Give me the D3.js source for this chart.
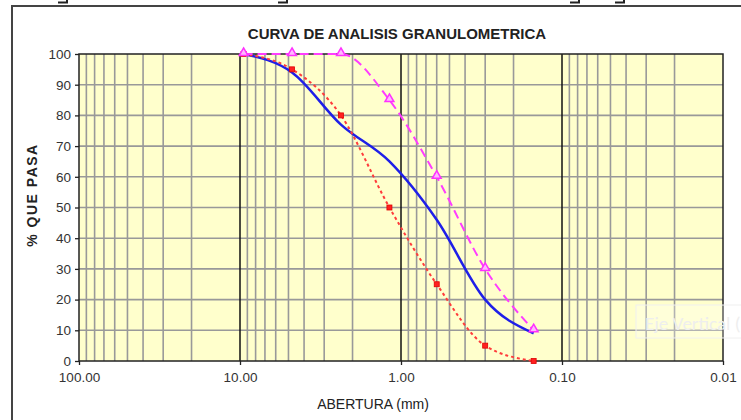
<!DOCTYPE html>
<html>
<head>
<meta charset="utf-8">
<script src="https://cdn.jsdelivr.net/npm/d3@7/dist/d3.min.js"></script>
<style>
  html, body { margin: 0; padding: 0; background: #fff; }
  svg { display: block; font-family: "Liberation Sans", Arial, sans-serif; }
</style>
</head>
<body>
<svg id="chart" width="741" height="420"></svg>
<script>
// Sieve openings (mm) and percent passing
const sieveSizes = [9.5, 4.75, 2.36, 1.18, 0.6, 0.3, 0.15];
const passing    = [100, 94, 77, 65, 46, 20, 9];
const lowerLimit = [100, 95, 80, 50, 25, 5, 0];
const upperLimit = [100, 100, 100, 85, 60, 30, 10];

const xTickValues = [100, 10, 1, 0.1, 0.01];
const xTickLabels = ["100.00", "10.00", "1.00", "0.10", "0.01"];
const yTickValues = [0, 10, 20, 30, 40, 50, 60, 70, 80, 90, 100];

const svg = d3.select("#chart");
const plotL = 79, plotR = 723, plotT = 54, plotB = 361;

const x = d3.scaleLog().domain([100, 0.01]).range([plotL, plotR]);
const y = d3.scaleLinear().domain([0, 100]).range([plotB, plotT]);

// Outer chart frame (top and left edges)
svg.append("path")
  .attr("d", `M12,420 V6 H741`)
  .attr("fill", "none").attr("stroke", "#444").attr("stroke-width", 2);

// small dark marks along the top edge
[[58, 68], [278, 288], [570, 580], [615, 625]].forEach(([a, b]) => {
  svg.append("path")
    .attr("d", `M${a},2.5 H${b} M${b - 1},0 V3`)
    .attr("fill", "none").attr("stroke", "#222").attr("stroke-width", 2);
});

// Plot background
svg.append("rect")
  .attr("x", plotL).attr("y", plotT)
  .attr("width", plotR - plotL).attr("height", plotB - plotT)
  .attr("fill", "#ffffcc");

// Minor vertical grid (2..9 within each decade)
const minor = [];
for (let e = -2; e < 2; e++) {
  for (let m = 2; m <= 9; m++) minor.push(m * Math.pow(10, e));
}
svg.append("g").selectAll("line").data(minor).join("line")
  .attr("x1", d => x(d)).attr("x2", d => x(d))
  .attr("y1", plotT).attr("y2", plotB)
  .attr("stroke", "#999").attr("stroke-width", 1.6);

// Horizontal grid
svg.append("g").selectAll("line").data(yTickValues.slice(1, -1)).join("line")
  .attr("x1", plotL).attr("x2", plotR)
  .attr("y1", d => y(d)).attr("y2", d => y(d))
  .attr("stroke", "#999").attr("stroke-width", 1.6);

// Decade lines
svg.append("g").selectAll("line").data([10, 1, 0.1]).join("line")
  .attr("x1", d => x(d)).attr("x2", d => x(d))
  .attr("y1", plotT).attr("y2", plotB)
  .attr("stroke", "#111").attr("stroke-width", 1.5);

// Plot border
svg.append("rect")
  .attr("x", plotL).attr("y", plotT)
  .attr("width", plotR - plotL).attr("height", plotB - plotT)
  .attr("fill", "none").attr("stroke", "#222").attr("stroke-width", 1.5);

// Axes
const yAxis = d3.axisLeft(y).tickValues(yTickValues).tickSize(4).tickPadding(4);
const gy = svg.append("g").attr("transform", `translate(${plotL},0)`).call(yAxis);
gy.select(".domain").remove();
gy.selectAll("line").attr("stroke", "#222").attr("stroke-width", 1.3);
gy.selectAll("text").attr("font-size", 13.5).attr("fill", "#333")
  .attr("font-family", "Liberation Sans, Arial, sans-serif");

const xAxis = d3.axisBottom(x).tickValues(xTickValues)
  .tickFormat((d, i) => xTickLabels[i]).tickSize(4).tickPadding(7);
const gx = svg.append("g").attr("transform", `translate(0,${plotB})`).call(xAxis);
gx.select(".domain").remove();
gx.selectAll("line").attr("stroke", "#222").attr("stroke-width", 1.3);
gx.selectAll("text").attr("font-size", 13.5).attr("fill", "#333")
  .attr("font-family", "Liberation Sans, Arial, sans-serif");

// Curves
const line = d3.line().x(d => x(d[0])).y(d => y(d[1])).curve(d3.curveMonotoneX);
const pts = vals => sieveSizes.map((s, i) => [s, vals[i]]);

svg.append("path").datum(pts(passing))
  .attr("d", line).attr("fill", "none")
  .attr("stroke", "#1f1fe8").attr("stroke-width", 2.5);

svg.append("path").datum(pts(lowerLimit))
  .attr("d", line).attr("fill", "none")
  .attr("stroke", "#ff3b3b").attr("stroke-width", 2)
  .attr("stroke-dasharray", "3,3");

svg.append("path").datum(pts(upperLimit))
  .attr("d", line).attr("fill", "none")
  .attr("stroke", "#ff3cff").attr("stroke-width", 2)
  .attr("stroke-dasharray", "9,5");

// Markers: squares for lower limit, triangles for upper limit
svg.append("g").selectAll("rect").data(pts(lowerLimit)).join("rect")
  .attr("x", d => x(d[0]) - 2.5).attr("y", d => y(d[1]) - 2.5)
  .attr("width", 5).attr("height", 5)
  .attr("fill", "#ff2020").attr("stroke", "#e00000").attr("stroke-width", 0.8);

const tri = d3.symbol().type(d3.symbolTriangle).size(34);
svg.append("g").selectAll("path").data(pts(upperLimit)).join("path")
  .attr("d", tri)
  .attr("transform", d => `translate(${x(d[0])},${y(d[1]) - 1})`)
  .attr("fill", "#ffb8ff").attr("stroke", "#ff30ff").attr("stroke-width", 1.5);

// Titles
svg.append("text").attr("x", 397).attr("y", 39)
  .attr("text-anchor", "middle").attr("font-size", 15).attr("font-weight", "bold")
  .attr("fill", "#222").text("CURVA DE ANALISIS GRANULOMETRICA");

svg.append("text").attr("transform", "translate(37,195) rotate(-90)")
  .attr("text-anchor", "middle").attr("font-size", 14).attr("font-weight", "bold")
  .attr("letter-spacing", 1.5)
  .attr("fill", "#222").text("% QUE PASA");

svg.append("text").attr("x", 373).attr("y", 409)
  .attr("text-anchor", "middle").attr("font-size", 14)
  .attr("fill", "#222").text("ABERTURA (mm)");

// Faint axis-title placeholder box on the right
svg.append("rect").attr("x", 636).attr("y", 305).attr("width", 110).attr("height", 33)
  .attr("fill", "#ffffff").attr("fill-opacity", 0.25)
  .attr("stroke", "#f0f0f0").attr("stroke-width", 1);
svg.append("text").attr("x", 645).attr("y", 330)
  .attr("font-size", 19).attr("fill", "#eeeeee")
  .attr("font-family", "Calibri, Carlito, 'Liberation Sans', sans-serif")
  .text("Eje Vertical (");
</script>
</body>
</html>
